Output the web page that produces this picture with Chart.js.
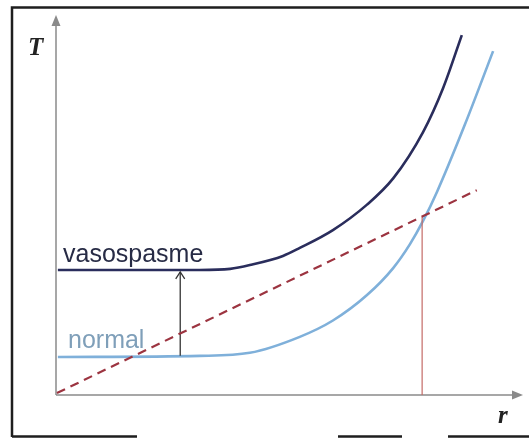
<!DOCTYPE html>
<html>
<head>
<meta charset="utf-8">
<script src="https://cdn.jsdelivr.net/npm/chart.js@4/dist/chart.umd.min.js"></script>
<style>
html,body{margin:0;padding:0;background:#fff;}
#wrap{width:529px;height:438px;}
</style>
</head>
<body>
<div id="wrap"><canvas id="c" width="529" height="438"></canvas></div>
<script>
// Data (arbitrary units: r on x, T on y)
const vasoR = [0.4, 30.8, 37.3, 41.5, 48.6, 52.2, 59.3, 66.6, 72.2, 78.6, 82.9, 86.9];
const vasoT = [32.9, 32.9, 33.2, 34.2, 36.6, 38.7, 43.4, 50.1, 57.0, 69.2, 80.8, 94.7];
const normR = [0.4, 30.8, 41.5, 52.2, 59.3, 66.6, 72.2, 75.8, 78.6, 81.6, 87.6, 93.6];
const normT = [10.0, 10.3, 11.1, 15.3, 19.6, 26.3, 33.4, 39.7, 45.8, 53.5, 71.3, 90.5];
const lineR = [0.2, 90.1];
const lineT = [0.5, 53.9];
const eqR = [78.4, 78.4];
const eqT = [0, 46.9];
const arrowR = [26.6, 26.6];
const arrowT = [10.3, 32.4];
const seriesLabels = ['vasospasme', 'normal'];
const axisLabels = ['T', 'r'];

const pts = (xs, ys) => xs.map((x, i) => ({x: x, y: ys[i]}));

const decor = {
  id: 'decor',
  beforeDatasetsDraw(chart) {
    const ctx = chart.ctx;
    const xs = chart.scales.x, ys = chart.scales.y;
    const x0 = xs.getPixelForValue(0), y0 = ys.getPixelForValue(0);
    const xEnd = xs.getPixelForValue(xs.max), yEnd = ys.getPixelForValue(ys.max);
    ctx.save();
    // outer frame
    ctx.strokeStyle = '#1e1e1e';
    ctx.lineWidth = 2.5;
    ctx.beginPath();
    ctx.moveTo(12, 437); ctx.lineTo(12, 7.5); ctx.lineTo(529, 7.5);
    ctx.moveTo(12, 436.5); ctx.lineTo(137, 436.5);
    ctx.moveTo(338, 436.5); ctx.lineTo(402, 436.5);
    ctx.moveTo(448, 436.5); ctx.lineTo(529, 436.5);
    ctx.stroke();
    // axes
    ctx.strokeStyle = '#8a8a8a';
    ctx.fillStyle = '#8a8a8a';
    ctx.lineWidth = 1.5;
    ctx.beginPath();
    ctx.moveTo(x0, y0); ctx.lineTo(x0, yEnd + 6);
    ctx.moveTo(x0, y0); ctx.lineTo(xEnd - 6, y0);
    ctx.stroke();
    ctx.beginPath();
    ctx.moveTo(x0, yEnd); ctx.lineTo(x0 - 4.5, yEnd + 11); ctx.lineTo(x0 + 4.5, yEnd + 11); ctx.closePath();
    ctx.fill();
    ctx.beginPath();
    ctx.moveTo(xEnd, y0); ctx.lineTo(xEnd - 11, y0 - 4.5); ctx.lineTo(xEnd - 11, y0 + 4.5); ctx.closePath();
    ctx.fill();
    // axis labels
    ctx.fillStyle = '#222';
    ctx.font = 'italic bold 25px "Liberation Serif", serif';
    ctx.textBaseline = 'alphabetic';
    ctx.fillText(axisLabels[0], 28, 55);
    ctx.fillText(axisLabels[1], 498, 423);
    ctx.restore();
  },
  afterDatasetsDraw(chart) {
    const ctx = chart.ctx;
    const xs = chart.scales.x, ys = chart.scales.y;
    ctx.save();
    // arrow head on the shift arrow
    const ax = xs.getPixelForValue(arrowR[1]), ay = ys.getPixelForValue(arrowT[1]);
    ctx.strokeStyle = '#333';
    ctx.lineWidth = 1.3;
    ctx.beginPath();
    ctx.moveTo(ax - 4.5, ay + 7); ctx.lineTo(ax, ay); ctx.lineTo(ax + 4.5, ay + 7);
    ctx.stroke();
    // series labels
    ctx.font = '25px "Liberation Sans", Arial, sans-serif';
    ctx.textBaseline = 'alphabetic';
    ctx.fillStyle = '#272b45';
    ctx.fillText(seriesLabels[0], 63, 262);
    ctx.fillStyle = '#7f9fb9';
    ctx.fillText(seriesLabels[1], 68, 348);
    ctx.restore();
  }
};

new Chart(document.getElementById('c'), {
  type: 'scatter',
  data: {
    datasets: [
      {data: pts(lineR, lineT), showLine: true, borderColor: '#9c3440', borderWidth: 2.2, borderDash: [9, 6], pointRadius: 0},
      {data: pts(eqR, eqT), showLine: true, borderColor: '#c46a66', borderWidth: 1.2, pointRadius: 0},
      {data: pts(arrowR, arrowT), showLine: true, borderColor: '#333', borderWidth: 1.3, pointRadius: 0},
      {label: seriesLabels[1], data: pts(normR, normT), showLine: true, borderColor: '#7fb0da', borderWidth: 2.6, pointRadius: 0, cubicInterpolationMode: 'monotone'},
      {label: seriesLabels[0], data: pts(vasoR, vasoT), showLine: true, borderColor: '#2a2d5c', borderWidth: 2.6, pointRadius: 0, cubicInterpolationMode: 'monotone'}
    ]
  },
  options: {
    responsive: false,
    animation: false,
    layout: {padding: {left: 56, right: 6, top: 15, bottom: 43}},
    plugins: {legend: {display: false}, tooltip: {enabled: false}},
    scales: {
      x: {type: 'linear', min: 0, max: 100, display: false},
      y: {type: 'linear', min: 0, max: 100, display: false}
    }
  },
  plugins: [decor]
});
</script>
</body>
</html>
